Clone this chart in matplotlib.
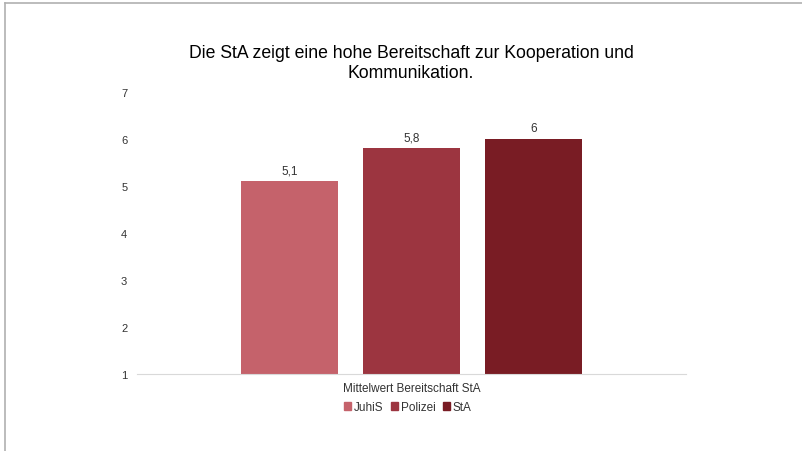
import matplotlib
matplotlib.use("Agg")
import matplotlib.pyplot as plt
from matplotlib.lines import Line2D

plt.rcParams["font.family"] = ["Liberation Sans", "DejaVu Sans"]

TITLE = "Die StA zeigt eine hohe Bereitschaft zur Kooperation und\nKommunikation."
CATEGORY = "Mittelwert Bereitschaft StA"
SERIES = ["JuhiS", "Polizei", "StA"]
VALUES = [5.1, 5.8, 6.0]
LABELS = ["5,1", "5,8", "6"]
COLORS = ["#C5626B", "#9C3540", "#791C24"]
YTICKS = [1, 2, 3, 4, 5, 6, 7]

fig = plt.figure(figsize=(8.03, 4.52), dpi=100)
ax = fig.add_axes([0.1706, 0.1704, 0.6837, 0.6239])

pos = [-1, 0, 1]
ax.bar(pos, [v - 1 for v in VALUES], bottom=1, width=0.795, color=COLORS)
for x, v, lab in zip(pos, VALUES, LABELS):
    ax.text(x, v + 0.1, lab, ha="center", va="bottom", fontsize=8.5, color="#333333")

ax.set_xlim(-2.25, 2.25)
ax.set_ylim(1, 7)
ax.set_yticks(YTICKS)
ax.set_yticklabels([str(t) for t in YTICKS], fontsize=8, color="#333333")
ax.tick_params(axis="y", length=0, pad=7)
ax.set_xticks([0])
ax.set_xticklabels([CATEGORY], fontsize=8.5, color="#333333")
ax.tick_params(axis="x", length=0, pad=6)
for s in ["top", "right", "left"]:
    ax.spines[s].set_visible(False)
ax.spines["bottom"].set_color("#d9d9d9")

fig.text(0.512, 0.86, TITLE, ha="center", va="center", fontsize=12.7,
         color="#000000", linespacing=1.25)

handles = [plt.Rectangle((0, 0), 1, 1, color=c) for c in COLORS]
fig.legend(handles, SERIES, loc="center", bbox_to_anchor=(0.508, 0.097), ncol=3,
           frameon=False, fontsize=8.5, handlelength=0.6, handleheight=0.6,
           handletextpad=0.25, columnspacing=0.6, labelcolor="#333333")

# outer frame (top and left edges)
fig.add_artist(Line2D([0.006, 1], [0.991, 0.991], color="#b0b0b0", lw=1.2))
fig.add_artist(Line2D([0.006, 0.006], [0, 0.991], color="#b0b0b0", lw=1.2))

fig.savefig("out.png", dpi=100)
